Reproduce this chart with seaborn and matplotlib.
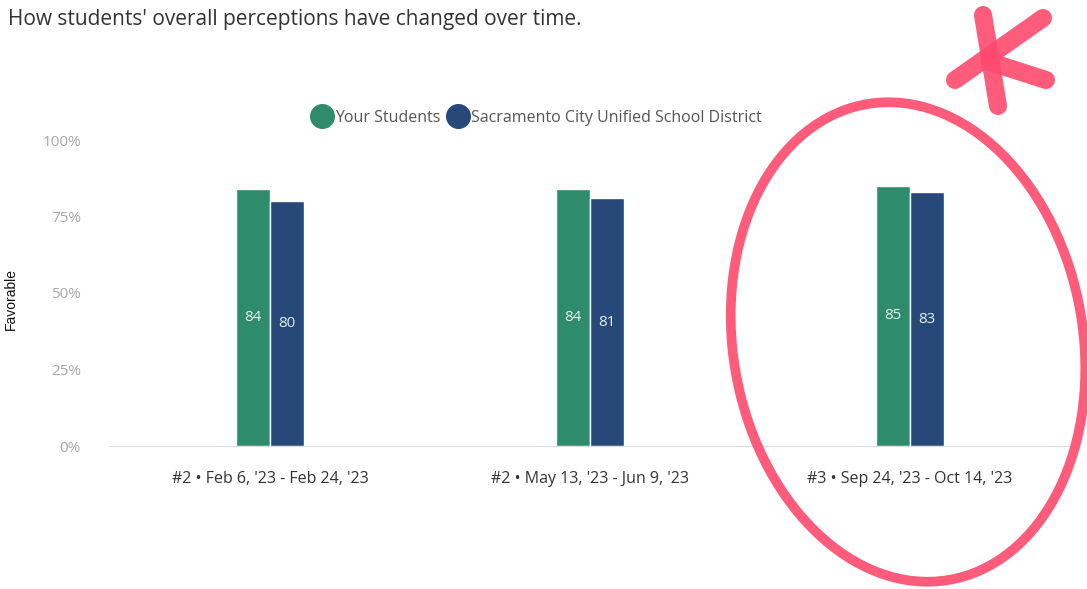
import matplotlib
matplotlib.use("Agg")
import matplotlib.pyplot as plt
from matplotlib.patches import Ellipse
from matplotlib.lines import Line2D
import pandas as pd
import seaborn as sns

# data
periods = ["#2 • Feb 6, '23 - Feb 24, '23",
           "#2 • May 13, '23 - Jun 9, '23",
           "#3 • Sep 24, '23 - Oct 14, '23"]
your_students = [84, 84, 85]
district = [80, 81, 83]
series_names = ["Your Students", "Sacramento City Unified School District"]
y_ticks = [0, 25, 50, 75, 100]

colors = ["#2e8b6c", "#27497a"]

df = pd.DataFrame({
    "period": periods * 2,
    "group": [series_names[0]] * 3 + [series_names[1]] * 3,
    "value": your_students + district,
})

sns.set_style("white")
plt.rcParams["font.family"] = ["Open Sans", "DejaVu Sans"]

W, H = 1087, 589
fig = plt.figure(figsize=(W / 100, H / 100), dpi=100)
# axes: x 110..1070 px, y 140..446 px
ax = fig.add_axes([110 / W, 1 - 446 / H, 960 / W, 306 / H])

sns.barplot(data=df, x="period", y="value", hue="group", palette=colors,
            width=0.21, saturation=1, ax=ax, legend=False)

for cont in ax.containers:
    ax.bar_label(cont, label_type="center", color="#e4f0ee", fontsize=11)

ax.set_ylim(0, 100)
ax.set_xlim(-0.5, 2.5)
ax.set_yticks(y_ticks)
ax.set_yticklabels([f"{t}%" for t in y_ticks], color="#a8a8a8", fontsize=11)
ax.tick_params(axis="y", length=0, pad=21)
ax.tick_params(axis="x", length=0, pad=18, labelsize=11.5, labelcolor="#333333")
ax.set_xlabel("")
ax.set_ylabel("Favorable", fontsize=10, color="#111111", family=["Liberation Sans", "DejaVu Sans"])
ax.yaxis.set_label_coords((18 - 110) / 960, 0.48)
for s in ["top", "right", "left"]:
    ax.spines[s].set_visible(False)
ax.spines["bottom"].set_color("#dddddd")

handles = [Line2D([0], [0], marker="o", linestyle="", markersize=17,
                  markerfacecolor=c, markeredgecolor=c) for c in colors]
fig.legend(handles, series_names, loc="center", bbox_to_anchor=(538 / W, 1 - 118 / H),
           ncol=2, frameon=False, fontsize=11.5, labelcolor="#555555",
           handletextpad=0.3, columnspacing=0.6, handlelength=1.0)

fig.text(8 / W, 1 - 20 / H, "How students' overall perceptions have changed over time.",
         fontsize=15, color="#333333", va="center", ha="left")

# hand-drawn red markup
red = "#ff4a6e"
fig.add_artist(Ellipse((908 / W, 1 - 342 / H), 352 / W, 480 / H, angle=3,
                       transform=fig.transFigure, fill=False, edgecolor=red,
                       linewidth=7, alpha=0.9))
strokes = [((983, 15), (998, 106)), ((1043, 18), (955, 80)), ((990, 62), (1046, 80))]
for (x0, y0), (x1, y1) in strokes:
    fig.add_artist(Line2D([x0 / W, x1 / W], [1 - y0 / H, 1 - y1 / H],
                          transform=fig.transFigure, color=red, linewidth=13,
                          solid_capstyle="round", alpha=0.9))

fig.savefig("out.png", dpi=100)
